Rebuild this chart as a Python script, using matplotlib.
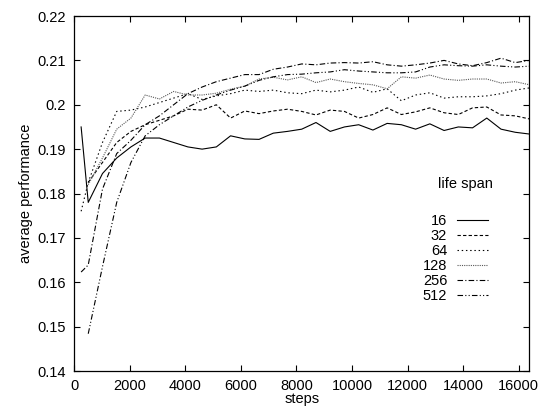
import numpy as np
import matplotlib
matplotlib.use("Agg")
import matplotlib.pyplot as plt

plt.rcParams['font.family'] = ['Liberation Sans', 'DejaVu Sans']

# training steps (every 512, first sample at 256)
steps = [256, 512, 1024, 1536, 2048, 2560, 3072, 3584, 4096, 4608, 5120,
         5632, 6144, 6656, 7168, 7680, 8192, 8704, 9216, 9728, 10240, 10752,
         11264, 11776, 12288, 12800, 13312, 13824, 14336, 14848, 15360, 15872,
         16384]

nan = np.nan
perf_16 = [0.195, 0.178, 0.1845, 0.188, 0.1905, 0.1925, 0.1925, 0.1915, 0.1905,
           0.190, 0.1905, 0.193, 0.1923, 0.1922, 0.1936, 0.194, 0.1945, 0.196,
           0.194, 0.195, 0.1955, 0.1943, 0.1958, 0.1955, 0.1945, 0.1957, 0.1942,
           0.195, 0.1948, 0.197, 0.1945, 0.1938, 0.1934]
perf_32 = [nan, 0.1825, 0.187, 0.1915, 0.194, 0.1955, 0.1965, 0.1975, 0.199,
           0.1988, 0.200, 0.197, 0.1986, 0.198, 0.1986, 0.199, 0.1985, 0.1977,
           0.1988, 0.1985, 0.197, 0.1978, 0.1993, 0.1978, 0.1984, 0.1993, 0.1982,
           0.1978, 0.1993, 0.1995, 0.1977, 0.1975, 0.1968]
perf_64 = [0.176, 0.1825, 0.1915, 0.1985, 0.1988, 0.1995, 0.2005, 0.2015, 0.2025,
           0.2012, 0.202, 0.2025, 0.2033, 0.203, 0.2033, 0.2027, 0.2025, 0.2033,
           0.2029, 0.2033, 0.204, 0.2028, 0.2036, 0.2009, 0.2022, 0.2027, 0.2015,
           0.2018, 0.2018, 0.202, 0.2025, 0.2033, 0.2038]
perf_128 = [nan, 0.182, 0.188, 0.1945, 0.197, 0.2022, 0.2013, 0.203, 0.2022,
            0.2022, 0.2026, 0.2035, 0.2042, 0.2058, 0.2062, 0.2056, 0.2063, 0.205,
            0.2058, 0.2052, 0.2048, 0.2045, 0.2036, 0.2063, 0.206, 0.2067, 0.2058,
            0.2055, 0.2058, 0.2058, 0.2049, 0.2052, 0.2045]
perf_256 = [0.1623, 0.1639, 0.181, 0.189, 0.192, 0.1955, 0.1975, 0.200, 0.2025,
            0.204, 0.2052, 0.206, 0.2068, 0.2068, 0.208, 0.2085, 0.2092, 0.209,
            0.2094, 0.2095, 0.2094, 0.2097, 0.209, 0.2087, 0.209, 0.2094, 0.210,
            0.2092, 0.2088, 0.2095, 0.2105, 0.2095, 0.210]
perf_512 = [nan, 0.1484, 0.1635, 0.178, 0.187, 0.193, 0.1955, 0.1975, 0.1995,
            0.201, 0.2022, 0.2033, 0.2042, 0.2055, 0.2063, 0.2068, 0.2069, 0.2072,
            0.2074, 0.2079, 0.2076, 0.2074, 0.2072, 0.2072, 0.2074, 0.2085, 0.209,
            0.2088, 0.2087, 0.209, 0.2087, 0.2085, 0.2087]

spans = ['16', '32', '64', '128', '256', '512']
x_ticks = [0, 2000, 4000, 6000, 8000, 10000, 12000, 14000, 16000]
y_ticks = [0.14, 0.15, 0.16, 0.17, 0.18, 0.19, 0.2, 0.21, 0.22]
y_tick_labels = ['0.14', '0.15', '0.16', '0.17', '0.18', '0.19', '0.2', '0.21', '0.22']

series = [perf_16, perf_32, perf_64, perf_128, perf_256, perf_512]
styles = ['-', (0, (3, 2)), (0, (1.3, 2.5)), (0, (1, 1)),
          (0, (5, 2, 1, 2)), (0, (5, 2, 1, 2, 1, 2))]
colors = ['black', 'black', 'black', '0.35', 'black', 'black']

fig = plt.figure(figsize=(5.43, 4.17), dpi=100)
ax = fig.add_axes([0.1363, 0.1103, 0.8388, 0.8513])

for vals, lab, ls, c in zip(series, spans, styles, colors):
    ax.plot(steps, vals, linestyle=ls, color=c, linewidth=0.8, label=lab)

ax.set_xlim(0, 16384)
ax.set_ylim(0.14, 0.22)
ax.set_xticks(x_ticks)
ax.set_yticks(y_ticks)
ax.set_yticklabels(y_tick_labels)
ax.tick_params(direction='in', length=4, width=0.8, top=True, right=True,
               labelsize=10.5, pad=6)
for s in ax.spines.values():
    s.set_linewidth(0.9)

ax.set_xlabel('steps', fontsize=10.5, labelpad=-1)
ax.set_ylabel('average performance', fontsize=10.5, labelpad=3)

ax.text(0.86, 0.527, 'life span', transform=ax.transAxes, fontsize=10.5,
        ha='center', va='center')
leg = ax.legend(loc='upper right', bbox_to_anchor=(0.925, 0.462), frameon=False,
                fontsize=10.5, markerfirst=False, handlelength=2.1,
                handletextpad=0.7, labelspacing=0.06, borderpad=0)
for t in leg.get_texts():
    t.set_ha('right')

fig.savefig('out.png', dpi=100)
